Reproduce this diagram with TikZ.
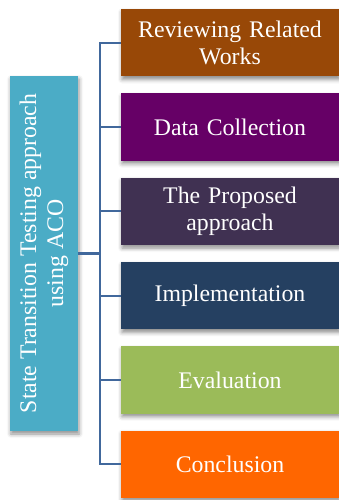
\documentclass[tikz,border=0pt]{standalone}
\usepackage{fontspec}
\setmainfont{Liberation Serif}
\usepackage{graphicx}
\usetikzlibrary{shadows.blur}

\definecolor{rootteal}{HTML}{4BACC6}
\definecolor{linkblue}{HTML}{41689C}
\definecolor{reviewbrown}{HTML}{984807}
\definecolor{datapurple}{HTML}{660066}
\definecolor{proposedplum}{HTML}{403152}
\definecolor{implnavy}{HTML}{254061}
\definecolor{evalgreen}{HTML}{9BBB59}
\definecolor{conclorange}{HTML}{FF6600}

\begin{document}
\begin{tikzpicture}[x=1pt, y=-1pt, grow'=right, level distance=186pt, text=white, font=\fontsize{23.8}{27}\selectfont]

%BOUNDING BOX
\useasboundingbox (0,0) rectangle (339,500);

%DISTANCE SETTINGS
\tikzstyle{level 1}=[sibling distance=84.3pt]
\tikzstyle{phase}=[minimum width=218pt, minimum height=67.5pt, text width=200pt, align=center, inner sep=0pt,
	blur shadow={shadow xshift=1pt, shadow yshift=-3pt, shadow blur radius=4pt, shadow opacity=45}]
\tikzstyle{edge from parent}=[draw=linkblue, line width=2.2pt]
\tikzset{edge from parent path={(\tikzparentnode.east) -- ++(22,0) |- (\tikzchildnode.west)}}

%NODES
\node[fill=rootteal, minimum width=68pt, minimum height=355pt, inner sep=0pt,
	blur shadow={shadow xshift=1pt, shadow yshift=-3pt, shadow blur radius=4pt, shadow opacity=45}] (approach) at (44,253.5)
	{\rotatebox{90}{\parbox{345pt}{\centering State Transition Testing approach\\using ACO}}}
	child {node[phase, fill=reviewbrown] (review) {Reviewing Related\\Works}}
	child {node[phase, fill=datapurple] (data) {Data Collection}}
	child {node[phase, fill=proposedplum] (proposed) {The Proposed\\approach}}
	child {node[phase, fill=implnavy] (impl) {Implementation}}
	child {node[phase, fill=evalgreen] (eval) {Evaluation}}
	child {node[phase, fill=conclorange] (concl) {Conclusion}};

\end{tikzpicture}
\end{document}
